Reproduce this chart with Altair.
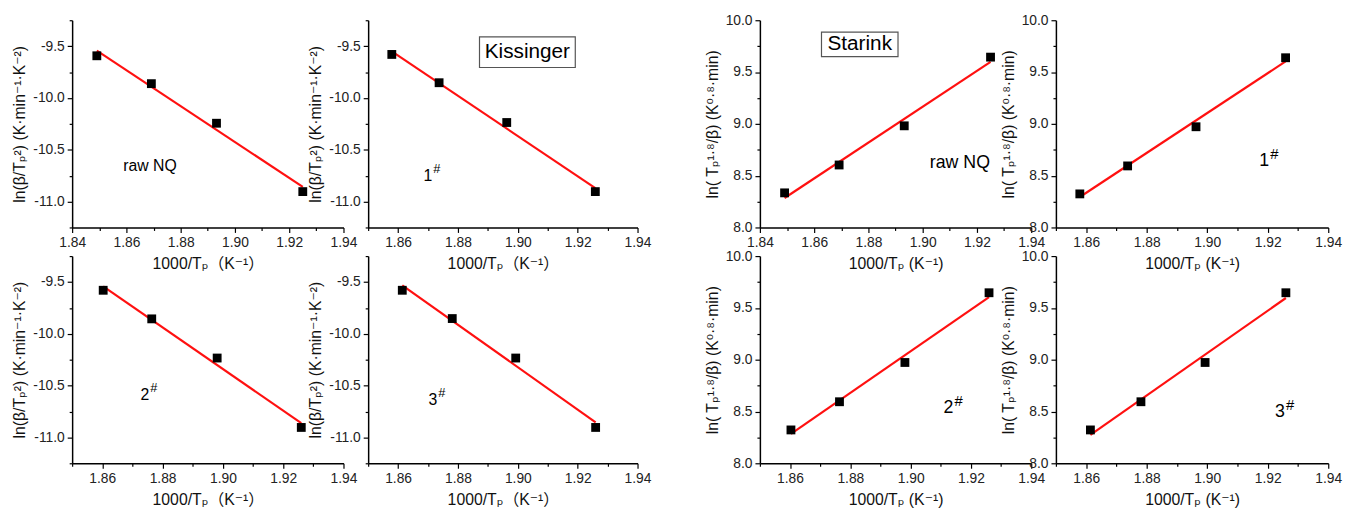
import altair as alt
import pandas as pd

# ---------------- data ----------------
x_raw = [1.8491, 1.8692, 1.8932, 1.9250]
x_1 = [1.8579, 1.8737, 1.8963, 1.9259]
x_2 = [1.8603, 1.8764, 1.8981, 1.9260]
x_3 = [1.8614, 1.8781, 1.8993, 1.9260]

kis_raw = [-9.593, -9.862, -10.244, -10.904]
kis_1 = [-9.580, -9.853, -10.237, -10.904]
kis_2 = [-9.580, -9.856, -10.234, -10.904]
kis_3 = [-9.580, -9.853, -10.234, -10.904]

sta_raw = [8.334, 8.603, 8.981, 9.644]
sta_1 = [8.324, 8.594, 8.972, 9.638]
sta_2 = [8.322, 8.594, 8.973, 9.646]
sta_3 = [8.322, 8.594, 8.973, 9.646]

sample_main = ["raw NQ", "1", "2", "3"]
sample_sup = ["", "#", "#", "#"]

# annotation anchors (data units) for each panel's sample label
kis_lab_x = [1.8687, 1.8714, 1.8756, 1.8731]
kis_lab_y = [-10.66, -10.75, -10.593, -10.64]
sta_lab_x = [1.9137, 1.9205, 1.9142, 1.9257]
sta_lab_y = [8.618, 8.645, 8.534, 8.493]

# method boxes (data units)
kis_box = {"x1": 1.8872, "x2": 1.9192, "y1": -9.41, "y2": -9.706, "tx": 1.9032, "ty": -9.558, "t": "Kissinger"}
sta_box = {"x1": 1.8627, "x2": 1.8909, "y1": 9.886, "y2": 9.649, "tx": 1.8768, "ty": 9.768, "t": "Starink"}

kis_xtitle = "1000/Tₚ（K⁻¹）"
kis_ytitle = "ln(β/Tₚ²) (K·min⁻¹·K⁻²)"
sta_xtitle = "1000/Tₚ (K⁻¹)"
sta_ytitle = "ln( Tₚ¹·⁸/β)  (K⁰·⁸·min)"

FONT = "Liberation Sans, Arial, DejaVu Sans, Noto Sans CJK SC"


def steps(a, b, s):
    n = int(round((b - a) / s))
    return [round(a + i * s, 4) for i in range(n + 1)]


def make_x_axis(title, ticks):
    major = "abs(round(datum.value*100)) % 2 == 0"
    return alt.Axis(
        values=ticks, title=title, grid=False,
        labelExpr=f"{major} ? format(datum.value, '.2f') : ''",
        tickSize={"condition": {"test": major, "value": 5}, "value": 3},
        domainColor="black", domainWidth=1.5, tickColor="black", tickWidth=1.2,
        labelFont=FONT, labelFontSize=14, labelColor="#222", labelPadding=3,
        labelFlush=False, labelOverlap=False,
        titleFont=FONT, titleFontSize=16, titleFontWeight="normal", titleColor="#111",
        titlePadding=7,
    )


def make_y_axis(title, ticks):
    major = "abs(round(datum.value*4)) % 2 == 0"
    return alt.Axis(
        values=ticks, title=title, grid=False,
        labelExpr=f"{major} ? ((datum.value < 0 ? '-' : '') + format(abs(datum.value), '.1f')) : ''",
        tickSize={"condition": {"test": major, "value": 5}, "value": 3},
        domainColor="black", domainWidth=1.5, tickColor="black", tickWidth=1.2,
        labelFont=FONT, labelFontSize=14, labelColor="#222", labelPadding=3,
        labelFlush=False, labelOverlap=False,
        titleFont=FONT, titleFontSize=16, titleFontWeight="normal", titleColor="#111",
        titlePadding=5,
    )


def panel(xs, ys, xdom, ydom, yticks, xtitle, ytitle, w, h, i, lab_x, lab_y, lab_size, box=None):
    df = pd.DataFrame({"x": xs, "y": ys})
    xticks = steps(xdom[0], xdom[1], 0.01)
    xs_ = alt.Scale(domain=xdom, nice=False, zero=False)
    ys_ = alt.Scale(domain=ydom, nice=False, zero=False)
    xa = make_x_axis(xtitle, xticks)
    ya = make_y_axis(ytitle, yticks)
    X = lambda f: alt.X(f"{f}:Q", scale=xs_, axis=xa)
    Y = lambda f: alt.Y(f"{f}:Q", scale=ys_, axis=ya)

    line = alt.Chart(df).transform_regression("x", "y").mark_line(
        color="#ff1010", strokeWidth=2.2).encode(x=X("x"), y=Y("y"))
    pts = alt.Chart(df).mark_point(shape="square", filled=True, size=80, color="black",
                                   opacity=1).encode(x=X("x"), y=Y("y"))
    lab = pd.DataFrame({"x": [lab_x[i]], "y": [lab_y[i]], "t": [sample_main[i]], "s": [sample_sup[i]]})
    if sample_sup[i]:
        main = alt.Chart(lab).mark_text(font=FONT, fontSize=lab_size, align="right", baseline="middle",
                                        color="black").encode(x=X("x"), y=Y("y"), text="t:N")
        sup = alt.Chart(lab).mark_text(font=FONT, fontSize=lab_size - 3, align="left", baseline="middle",
                                       dx=1, dy=-7, color="black").encode(x=X("x"), y=Y("y"), text="s:N")
        layers = [line, pts, main, sup]
    else:
        main = alt.Chart(lab).mark_text(font=FONT, fontSize=lab_size, align="center", baseline="middle",
                                        color="black").encode(x=X("x"), y=Y("y"), text="t:N")
        layers = [line, pts, main]
    if box is not None:
        bdf = pd.DataFrame([box])
        rect = alt.Chart(bdf).mark_rect(fill="white", stroke="#555", strokeWidth=1.2).encode(
            x=X("x1"), x2="x2:Q", y=Y("y1"), y2="y2:Q")
        btxt = alt.Chart(bdf).mark_text(font=FONT, fontSize=21, align="center", baseline="middle",
                                        color="black").encode(x=X("tx"), y=Y("ty"), text="t:N")
        layers += [rect, btxt]
    return alt.layer(*layers).properties(width=w, height=h)


kis_y = [-11.25, -9.25]
kis_yt = steps(-11.25, -9.25, 0.25)
sta_y = [8.0, 10.0]
sta_yt = steps(8.0, 10.0, 0.25)

H = 210
p1 = panel(x_raw, kis_raw, [1.84, 1.94], kis_y, kis_yt, kis_xtitle, kis_ytitle, 275, H, 0, kis_lab_x, kis_lab_y, 16)
p2 = panel(x_1, kis_1, [1.85, 1.94], kis_y, kis_yt, kis_xtitle, kis_ytitle, 273, H, 1, kis_lab_x, kis_lab_y, 16, kis_box)
p3 = panel(x_2, kis_2, [1.85, 1.94], kis_y, kis_yt, kis_xtitle, kis_ytitle, 275, H, 2, kis_lab_x, kis_lab_y, 16)
p4 = panel(x_3, kis_3, [1.85, 1.94], kis_y, kis_yt, kis_xtitle, kis_ytitle, 273, H, 3, kis_lab_x, kis_lab_y, 16)

p5 = panel(x_raw, sta_raw, [1.84, 1.94], sta_y, sta_yt, sta_xtitle, sta_ytitle, 275, H, 0, sta_lab_x, sta_lab_y, 18, sta_box)
p6 = panel(x_1, sta_1, [1.85, 1.94], sta_y, sta_yt, sta_xtitle, sta_ytitle, 276, H, 1, sta_lab_x, sta_lab_y, 18)
p7 = panel(x_2, sta_2, [1.85, 1.94], sta_y, sta_yt, sta_xtitle, sta_ytitle, 275, H, 2, sta_lab_x, sta_lab_y, 18)
p8 = panel(x_3, sta_3, [1.85, 1.94], sta_y, sta_yt, sta_xtitle, sta_ytitle, 276, H, 3, sta_lab_x, sta_lab_y, 18)


def spacer():
    return alt.Chart(pd.DataFrame({"a": [0]})).mark_point(opacity=0).encode(
        x=alt.value(0), y=alt.value(0)).properties(width=74, height=H)


chart = alt.concat(
    p1, p2, spacer(), p5, p6,
    p3, p4, spacer(), p7, p8,
    columns=5, spacing={"row": 29, "column": 25}, bounds="flush", align="each",
).properties(
    padding={"left": 4, "top": 2, "right": 5, "bottom": 5},
    background="white",
).configure_view(stroke=None)

chart.save("out.html", embed_options={"renderer": "svg", "actions": False})
